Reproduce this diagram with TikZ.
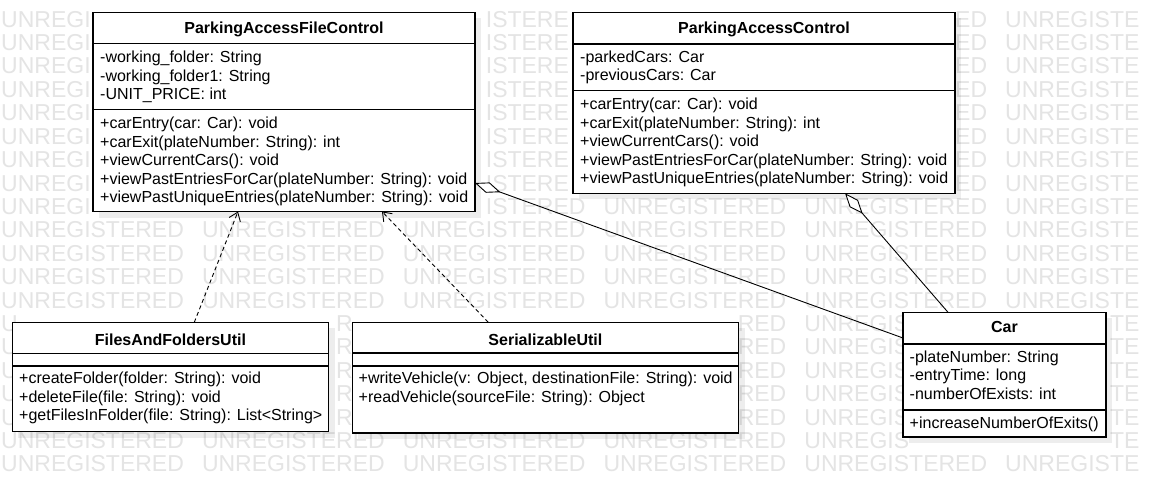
\documentclass[tikz,border=0pt]{standalone}
\usepackage{fontspec}
\setmainfont{Liberation Sans}
\usetikzlibrary{arrows.meta}
\definecolor{wm}{RGB}{228,228,228}
\begin{document}
\begin{tikzpicture}[x=1pt,y=-1pt,
  declare function={
    ov(\x,\y,\w,\a,\b,\c,\d)=(\x+\w>\a)*(\x<\c)*(\y+8.4>\b)*(\y-8.4<\d);
    ins(\x,\y,\w,\a,\b,\c,\d)=(\x>\a)*(\x+\w<\c)*(\y-8.4>\b)*(\y+8.4<\d);
  },
  box/.style={draw=black,line width=1.1pt,fill=white,anchor=north west,inner sep=0pt,outer sep=0pt},
  shd/.style={fill=black,opacity=0.07},
  divl/.style={line width=1.1pt},
  ttl/.style={font=\fontsize{16}{18}\selectfont\bfseries,anchor=base,inner sep=0pt},
  txt/.style={font=\fontsize{16}{18}\selectfont,anchor=base west,inner sep=0pt},
  wmk/.style={font=\fontsize{23}{23}\selectfont,text=wm,anchor=base west,inner sep=0pt},
  dep/.style={draw,line width=0.9pt,dash pattern=on 4pt off 3pt,-{Straight Barb[length=8pt,width=12pt]}},
  agg/.style={draw,line width=0.9pt,{Diamond[fill=white,length=27pt,width=11pt]}-}
]
\useasboundingbox (0,0) rectangle (1155,487);
\fill[white] (0,0) rectangle (1155,487);
% watermark (letters that would sit on the class texts or wholly inside a class box are left out)
\foreach \i in {0,...,19}{
  \foreach \k in {0,...,5}{
    \foreach \ch/\off/\w [count=\n] in {U/0/16.61,N/16.61/16.61,R/33.22/16.61,E/49.83/15.34,G/65.17/17.89,I/83.06/6.39,S/89.45/15.34,T/104.79/14.05,E/118.84/15.34,R/134.18/16.61,E/150.79/15.34,D/166.13/16.61}{
      \pgfmathsetmacro\lx{1+200.8*\k+\off}
      \pgfmathsetmacro\ly{19+23.4*\i}
      \pgfmathtruncatemacro\hid{ov(\lx,\ly,\w,99.5,21.5,469,208)+ov(\lx,\ly,\w,579.5,21.5,949,190)+ov(\lx,\ly,\w,909,321,1100,434)+ov(\lx,\ly,\w,18,331,323,428)+ov(\lx,\ly,\w,358,331,734,429)}
      \pgfmathtruncatemacro\inn{ins(\lx,\ly,\w,92,11.5,476,212.5)+ins(\lx,\ly,\w,572,11.5,956,194)+ins(\lx,\ly,\w,902,311,1107,438)+ins(\lx,\ly,\w,11,321,330,432.5)+ins(\lx,\ly,\w,351,321,740,434)+(\lx+\w>1155.5)}
      \pgfmathtruncatemacro\tot{\hid+\inn}
      \ifnum\tot=0
        \node[wmk] (w-\i-\k-\n) at (\lx,\ly+8.2) {\ch};
      \fi
    }
  }
}
% shadows
\fill[shd] (99,18.5) rectangle (481,217.7);
\fill[shd] (579,18.5) rectangle (961,199.3);
\fill[shd] (909,318.3) rectangle (1112,443);
\fill[shd] (18.3,328.3) rectangle (334.5,437.5);
\fill[shd] (358.3,328.3) rectangle (744.5,439);
% ParkingAccessFileControl
\node[box,minimum width=382pt,minimum height=199pt] (pafc) at (93,12.5) {};
\draw[divl] (93,43.3) -- (475,43.3);
\draw[divl] (93,109.3) -- (475,109.3);
\node[ttl] (pafct) at (284,33.5) {ParkingAccessFileControl};
\node[txt] (pafca1) at (100,63) {-working\_folder: String};
\node[txt] (pafca2) at (100,81.3) {-working\_folder1: String};
\node[txt] (pafca3) at (100,99.6) {-UNIT\_PRICE: int};
\node[txt] (pafcm1) at (100,128.5) {+carEntry(car: Car): void};
\node[txt] (pafcm2) at (100,147) {+carExit(plateNumber: String): int};
\node[txt] (pafcm3) at (100,165.5) {+viewCurrentCars(): void};
\node[txt] (pafcm4) at (100,184) {+viewPastEntriesForCar(plateNumber: String): void};
\node[txt] (pafcm5) at (100,202.5) {+viewPastUniqueEntries(plateNumber: String): void};
% ParkingAccessControl
\node[box,minimum width=382pt,minimum height=180.8pt] (pac) at (573,12.5) {};
\draw[divl] (573,44) -- (955,44);
\draw[divl] (573,90.7) -- (955,90.7);
\node[ttl] (pact) at (764,34) {ParkingAccessControl};
\node[txt] (paca1) at (580,62.5) {-parkedCars: Car};
\node[txt] (paca2) at (580,81) {-previousCars: Car};
\node[txt] (pacm1) at (580,109.5) {+carEntry(car: Car): void};
\node[txt] (pacm2) at (580,128) {+carExit(plateNumber: String): int};
\node[txt] (pacm3) at (580,146.5) {+viewCurrentCars(): void};
\node[txt] (pacm4) at (580,165) {+viewPastEntriesForCar(plateNumber: String): void};
\node[txt] (pacm5) at (580,183.5) {+viewPastUniqueEntries(plateNumber: String): void};
% Car
\node[box,minimum width=203pt,minimum height=124.7pt] (car) at (903,312.3) {};
\draw[divl] (903,344) -- (1106,344);
\draw[divl] (903,410) -- (1106,410);
\node[ttl] (cart) at (1004.5,332.5) {Car};
\node[txt] (cara1) at (909.5,362.2) {-plateNumber: String};
\node[txt] (cara2) at (909.5,380.7) {-entryTime: long};
\node[txt] (cara3) at (909.5,399.2) {-numberOfExists: int};
\node[txt] (carm1) at (909.5,428.8) {+increaseNumberOfExits()};
% FilesAndFoldersUtil
\node[box,minimum width=316.2pt,minimum height=109.2pt] (fafu) at (12.3,322.3) {};
\draw[divl] (12.3,353.3) -- (328.5,353.3);
\draw[divl] (12.3,366) -- (328.5,366);
\node[ttl] (fafut) at (170.4,345) {FilesAndFoldersUtil};
\node[txt] (fafum1) at (19,383.8) {+createFolder(folder: String): void};
\node[txt] (fafum2) at (19,402.3) {+deleteFile(file: String): void};
\node[txt] (fafum3) at (19,420.8) {+getFilesInFolder(file: String): List<String>};
% SerializableUtil
\node[box,minimum width=386.2pt,minimum height=110.7pt] (su) at (352.3,322.3) {};
\draw[divl] (352.3,353) -- (738.5,353);
\draw[divl] (352.3,366) -- (738.5,366);
\node[ttl] (sut) at (545.4,345) {SerializableUtil};
\node[txt] (sum1) at (358.5,383.8) {+writeVehicle(v: Object, destinationFile: String): void};
\node[txt] (sum2) at (358.5,402.3) {+readVehicle(sourceFile: String): Object};
% connectors
\draw[dep] ([xshift=182pt]fafu.north west) -- ([xshift=145pt]pafc.south west);
\draw[dep] ([xshift=136pt]su.north west) -- ([xshift=289pt]pafc.south west);
\draw[agg] ([yshift=-170.5pt]pafc.north east) -- ([yshift=-25.7pt]car.north west);
\draw[agg] ([xshift=272pt]pac.south west) -- ([xshift=45pt]car.north west);
\end{tikzpicture}
\end{document}
